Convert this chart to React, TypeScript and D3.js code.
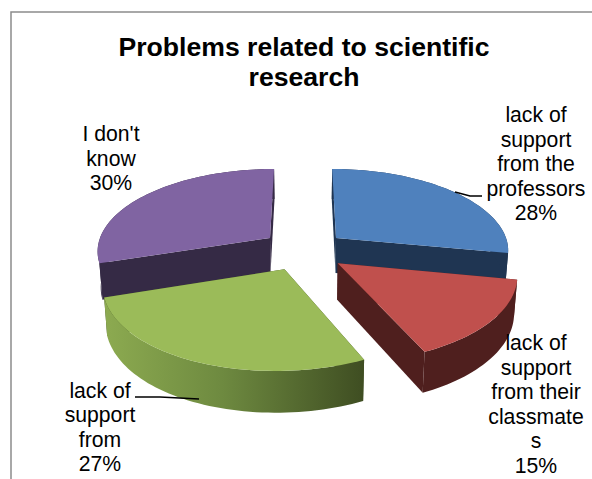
import React from "react";
import * as d3 from "d3";

// Share of answers per category
const categories = [
  "lack of support from the professors",
  "lack of support from their classmates",
  "lack of support from",
  "I don't know",
];
const shares = [28, 15, 27, 30];

const titleLines = ["Problems related to scientific", "research"];
const labelLines = [
  ["lack of", "support", "from the", "professors", "28%"],
  ["lack of", "support", "from their", "classmate", "s", "15%"],
  ["lack of", "support", "from", "27%"],
  ["I don't", "know", "30%"],
];

const topColors = ["#4F81BD", "#C0504D", "#9BBB59", "#8064A2"];
const wallColors = ["#1F3552", "#4F1F1E", "url(#greenWall)", "#352A45"];

// Camera and pie geometry
const cx = 304;
const cy = 238;
const radiusX = 170;
const radiusY = 78.4;
const perspective = 0.136;
const frontShear = 3.5;
const wallHeight = 35;
// Exploded offset of every slice: sideways in px, forward in disc radii
const explodeX = [32, 32.6, -18, -34];
const explodeY = [0, 0.308, 0.378, 0];
const labelX = [536, 536, 100, 111];
const labelBaseline = [122, 350, 397.5, 141];
const lineStep = 24.5;

type Pt = [number, number];

function project(X: number, Y: number, lower: boolean): Pt {
  const f = 1 / (1 - perspective * Y);
  const front = Math.max(0, Y);
  const x = X * f * (lower ? 0.985 : 1) - frontShear * front * front;
  const y = radiusY * Y * f + (lower ? wallHeight * (1 + 0.14 * Y) : 0);
  return [cx + x, cy + y];
}

const pieLayout = d3.pie<number>().sort(null).startAngle(0).endAngle(2 * Math.PI);
const arcs = pieLayout(shares);
const line = d3.line<Pt>();

function rimPoint(i: number, a: number, lower: boolean): Pt {
  return project(explodeX[i] + radiusX * Math.sin(a), explodeY[i] - Math.cos(a), lower);
}
function apex(i: number, lower: boolean): Pt {
  return project(explodeX[i], explodeY[i], lower);
}
function sampleAngles(a0: number, a1: number): number[] {
  const n = Math.max(2, Math.ceil((a1 - a0) / 0.03));
  return d3.range(n + 1).map((k) => a0 + ((a1 - a0) * k) / n);
}

function Slice({ i }: { i: number }) {
  const { startAngle, endAngle } = arcs[i];
  const angles = sampleAngles(startAngle, endAngle);
  const top = [apex(i, false), ...angles.map((a) => rimPoint(i, a, false))];
  const face = (a: number): Pt[] => [
    apex(i, false),
    rimPoint(i, a, false),
    rimPoint(i, a, true),
    apex(i, true),
  ];
  const rim = [
    ...angles.map((a) => rimPoint(i, a, false)),
    ...[...angles].reverse().map((a) => rimPoint(i, a, true)),
  ];
  return (
    <g>
      <path d={line(face(startAngle))! + "Z"} fill={i === 2 ? "#3F4E22" : wallColors[i]} />
      <path d={line(face(endAngle))! + "Z"} fill={i === 2 ? "#3F4E22" : wallColors[i]} />
      <path d={line(rim)! + "Z"} fill={wallColors[i]} />
      <path d={line(top)! + "Z"} fill={topColors[i]} />
    </g>
  );
}

const font = "'Liberation Sans', Arial, sans-serif";

export default function App() {
  return (
    <svg
      width={592}
      height={479}
      style={{ position: "absolute", left: 0, top: 0, background: "#fff" }}
    >
      <defs>
        <linearGradient id="greenWall" gradientUnits="userSpaceOnUse" x1={106} x2={363} y1={0} y2={0}>
          <stop offset="0" stopColor="#8CAA50" />
          <stop offset="0.45" stopColor="#6E8A40" />
          <stop offset="1" stopColor="#3F4E22" />
        </linearGradient>
      </defs>
      <path d="M11,479V12H592" fill="none" stroke="#8C8C8C" strokeWidth={1.5} />
      <text textAnchor="middle" fontFamily={font} fontWeight="bold" fontSize={26.6} fill="#000">
        {titleLines.map((t, k) => (
          <tspan key={t} x={304} y={56 + k * 30}>
            {t}
          </tspan>
        ))}
      </text>
      {/* Back slices first so the forward ones overlap them */}
      {[3, 0, 2, 1].map((i) => (
        <Slice key={categories[i]} i={i} />
      ))}
      <path d="M455,192L470,196H482" fill="none" stroke="#000" strokeWidth={1.5} />
      <path d="M135,397H160L199,399" fill="none" stroke="#000" strokeWidth={1.5} />
      {labelLines.map((lines, i) => (
        <text key={i} textAnchor="middle" fontFamily={font} fontSize={21.2} fill="#000">
          {lines.map((t, k) => (
            <tspan key={k} x={labelX[i]} y={labelBaseline[i] + k * lineStep}>
              {t}
            </tspan>
          ))}
        </text>
      ))}
    </svg>
  );
}
